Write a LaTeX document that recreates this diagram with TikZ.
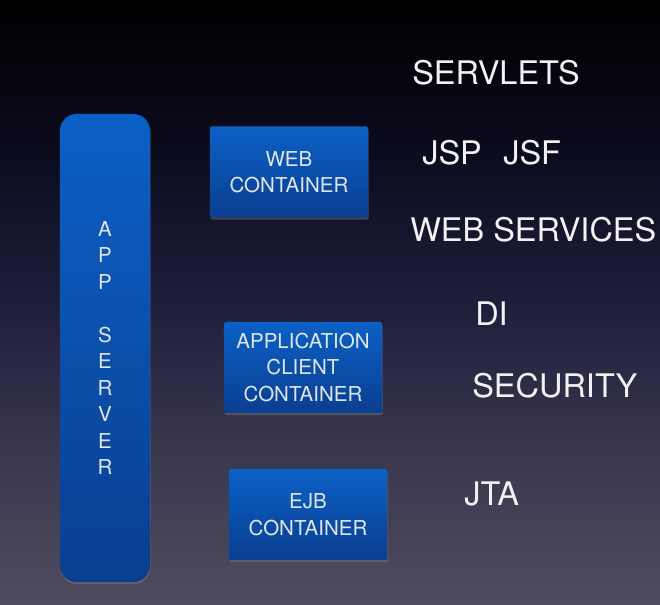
\documentclass[tikz,border=0pt]{standalone}
\usepackage{fontspec}
\setmainfont{TeX Gyre Heros}
\usepackage{tikz}
\usetikzlibrary{shadows}
\usepackage{xcolor}
\definecolor{bgtop}{HTML}{000000}
\definecolor{bgupper}{HTML}{0B0B1E}
\definecolor{bgmid}{HTML}{1F1E3A}
\definecolor{bglower}{HTML}{3A384F}
\definecolor{bgbottom}{HTML}{4F4C5F}
\definecolor{boxtop}{HTML}{0B60C6}
\definecolor{boxbottom}{HTML}{0A3E90}
\definecolor{boxtext}{HTML}{DFE6EE}
\definecolor{apitext}{HTML}{F2F2F4}
\pgfdeclareverticalshading{slidebg}{100bp}{%
  color(0bp)=(bgbottom); color(25bp)=(bgbottom); color(37.5bp)=(bglower);
  color(50bp)=(bgmid); color(62.5bp)=(bgupper); color(75bp)=(bgtop); color(100bp)=(bgtop)}

\begin{document}
\begin{tikzpicture}[
  x=0.025cm, y=-0.025cm,
  font=\fontsize{14.6}{18.8}\selectfont,
  serverbar/.style={
    top color=boxtop,
    bottom color=boxbottom,
    rounded corners=12pt,
    draw=none,
    text=boxtext,
    align=center,
    minimum width=2.25cm,
    minimum height=11.7cm,
    drop shadow={shadow xshift=0.4pt, shadow yshift=-1.5pt, opacity=0.45}
  },
  containerbox/.style={
    top color=boxtop,
    bottom color=boxbottom,
    rounded corners=1pt,
    draw=none,
    text=boxtext,
    align=center,
    minimum width=3.95cm,
    minimum height=2.275cm,
    drop shadow={shadow xshift=0.4pt, shadow yshift=-1.5pt, opacity=0.45}
  },
  apilabel/.style={
    anchor=west,
    inner sep=0pt,
    text=apitext,
    font=\fontsize{23.1}{27}\selectfont
  }
]

  % --- Background ---
  \shade[shading=slidebg] (0,0) rectangle (660,605);
  \useasboundingbox (0,0) rectangle (660,605);

  % --- App server column ---
  \node[serverbar] (appserver) at (105,348) {A\\P\\P\\[18.8pt]S\\E\\R\\V\\E\\R};

  % --- Containers ---
  \node[containerbox] (webcont) at (289,172) {WEB\\CONTAINER};
  \node[containerbox] (clientcont) at (303,367.5) {APPLICATION\\CLIENT\\CONTAINER};
  \node[containerbox] (ejbcont) at (308,514.5) {EJB\\CONTAINER};

  % --- APIs ---
  \node[apilabel] (servlets) at (412,73) {SERVLETS};
  \node[apilabel] (jsp) at (422,153) {JSP};
  \node[apilabel] (jsf) at (503,153) {JSF};
  \node[apilabel] (websvc) at (410,230) {WEB SERVICES};
  \node[apilabel] (di) at (475,314) {DI};
  \node[apilabel] (security) at (472,386) {SECURITY};
  \node[apilabel] (jta) at (464,494) {JTA};

\end{tikzpicture}
\end{document}
